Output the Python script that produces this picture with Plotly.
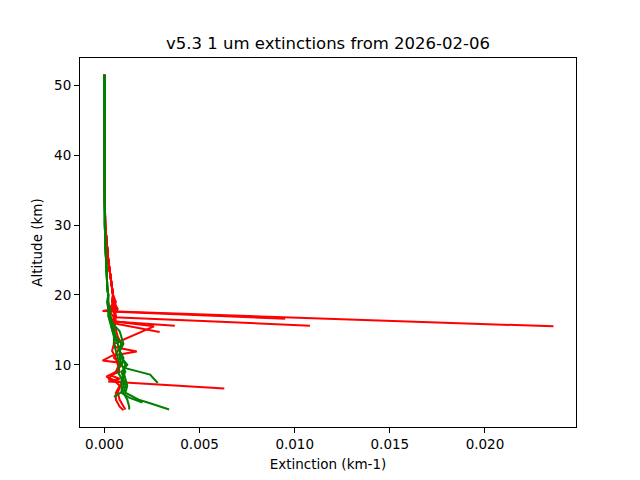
import plotly.graph_objects as go

TITLE = "v5.3 1 um extinctions from 2026-02-06"

# upper part shared by every profile (km), nearly zero extinction up there
alt_top = [51.5, 45, 40, 35, 30, 27, 25, 23, 21, 20]
ext_top_red = [0, 0, 0, 0.00001, 0.00004, 0.00012, 0.0002, 0.0003, 0.0004, 0.00045]
ext_top_green = [0, 0, 0, 0, 0.00002, 0.00005, 0.0001, 0.00012, 0.00015, 0.0002]

# red profiles (lower part)
r1_alt = [19, 18, 17.7, 15.5]
r1_ext = [0.0004, 0.0005, -0.0001, 0.0236]
r2_alt = [19, 18, 17.5, 16.8, 15.6]
r2_ext = [0.0004, 0.0006, 0.0003, 0.0005, 0.0108]
r3_alt = [19, 18.2, 17.6, 16.6]
r3_ext = [0.0005, 0.0003, 0.0006, 0.0095]
r4_alt = [19, 18, 17, 16.2, 15.6]
r4_ext = [0.0006, 0.0005, 0.0006, 0.0005, 0.0037]
r5_alt = [19, 18, 17, 16, 14.7]
r5_ext = [0.0005, 0.0007, 0.0005, 0.0004, 0.0029]
r6_alt = [19, 18, 17, 16.2, 15.5, 13.0, 12.5, 11.9, 11.3, 10.6, 10.3, 9, 8, 7.5, 6, 5, 3.6]
r6_ext = [0.0004, 0.0006, 0.0005, 0.0006, 0.0026, 0.0005, 0.0006, 0.0017, 0.0004, -0.0001,
          0.0008, 0.0006, 0.0002, 0.0009, 0.0007, 0.0008, 0.0011]
r7_alt = [19, 18, 17, 15, 13, 12, 11, 10, 9, 8.5, 8, 7.6, 6.6]
r7_ext = [0.0005, 0.0004, 0.0006, 0.0005, 0.0005, 0.0004, 0.0006, 0.0007, 0.0008, 0.0003,
          0.0008, 0.0002, 0.0063]
r8_alt = [19, 18, 17, 16, 14, 13, 12, 11, 10, 9, 8.3, 7.8, 7, 6, 5, 4, 3.5]
r8_ext = [0.0005, 0.0004, 0.0006, 0.0005, 0.0007, 0.0009, 0.0007, 0.0005, 0.0009, 0.0006,
          0.0001, 0.0005, 0.0008, 0.0006, 0.0006, 0.0008, 0.0010]

# green profiles (lower part)
g1_alt = [19, 18, 17, 16, 15, 14, 13, 12, 11, 10, 9.6, 8.6, 7.4]
g1_ext = [0.00018, 0.00025, 0.0003, 0.00035, 0.0004, 0.0006, 0.0009, 0.0008, 0.0010, 0.0009,
          0.0010, 0.0024, 0.0028]
g2_alt = [19, 18, 17, 16, 15, 14, 13, 12, 11, 10, 9, 8, 7, 6, 5.6, 5, 4.5, 3.6]
g2_ext = [0.0002, 0.0002, 0.0003, 0.0004, 0.0005, 0.0005, 0.0007, 0.0008, 0.0009, 0.0011,
          0.0010, 0.0011, 0.0012, 0.0011, 0.0014, 0.0018, 0.0024, 0.0034]
g3_alt = [19, 18, 17, 16, 14.8, 13, 12, 11, 10, 9, 8, 7, 6, 5, 4, 3.6]
g3_ext = [0.00015, 0.0002, 0.0003, 0.0004, 0.0008, 0.0010, 0.0008, 0.0009, 0.0012, 0.0009,
          0.0010, 0.0011, 0.0010, 0.0012, 0.0013, 0.0013]
g4_alt = [19, 18, 17, 16, 15, 14, 13, 12, 11, 10, 9, 8, 7, 6, 5.3, 4.6]
g4_ext = [0.0002, 0.0003, 0.0003, 0.0004, 0.0005, 0.0006, 0.0007, 0.0008, 0.0008, 0.0009,
          0.0011, 0.0009, 0.0010, 0.0009, 0.0013, 0.0020]
g5_alt = [19, 18, 17, 16, 15, 14, 13, 12, 11, 10, 9, 8, 7, 6.1, 5.4]
g5_ext = [0.00015, 0.0002, 0.0002, 0.0003, 0.0004, 0.0005, 0.0005, 0.0006, 0.0007, 0.0008,
          0.0007, 0.0009, 0.0009, 0.0009, 0.0005]

red = [(r1_alt, r1_ext), (r2_alt, r2_ext), (r3_alt, r3_ext), (r4_alt, r4_ext),
       (r5_alt, r5_ext), (r6_alt, r6_ext), (r7_alt, r7_ext), (r8_alt, r8_ext)]
green = [(g1_alt, g1_ext), (g2_alt, g2_ext), (g3_alt, g3_ext), (g4_alt, g4_ext),
         (g5_alt, g5_ext)]

fig = go.Figure()
all_x, all_y = [], []
# red first, green drawn on top
for lst, top, color in [(red, ext_top_red, "red"), (green, ext_top_green, "green")]:
    for a, e in lst:
        x = top + e
        y = alt_top + a
        all_x += x
        all_y += y
        fig.add_trace(go.Scatter(x=x, y=y, mode="lines",
                                 line=dict(color=color, width=2)))

# matplotlib-style 5% padding
xmin, xmax = min(all_x), max(all_x)
ymin, ymax = min(all_y), max(all_y)
dx = (xmax - xmin) * 0.05
dy = (ymax - ymin) * 0.05

axis_style = dict(
    showline=True, linecolor="black", linewidth=1, mirror=True,
    ticks="outside", ticklen=5, tickcolor="black", showgrid=False, zeroline=False,
    tickfont=dict(size=13.5, color="black"), automargin=False,
)

# page body adds an 8px offset, margins compensate for it
fig.update_layout(
    width=640, height=480,
    margin=dict(l=72, r=72, t=50, b=61),
    plot_bgcolor="white", paper_bgcolor="white",
    showlegend=False,
    font=dict(family="DejaVu Sans", color="black"),
    title=dict(text=TITLE, x=0.5, xanchor="center", xref="paper",
               y=1 - 35 / 480, yanchor="middle", font=dict(size=16.5),
               automargin=False),
)
fig.update_xaxes(range=[xmin - dx, xmax + dx], tick0=0, dtick=0.005, tickformat=".3f",
                 title=dict(text="Extinction (km-1)", font=dict(size=13.5), standoff=8),
                 **axis_style)
fig.update_yaxes(range=[ymin - dy, ymax + dy], tick0=0, dtick=10,
                 title=dict(text="Altitude (km)", font=dict(size=13.5), standoff=8),
                 **axis_style)

fig.write_html("out.html")
